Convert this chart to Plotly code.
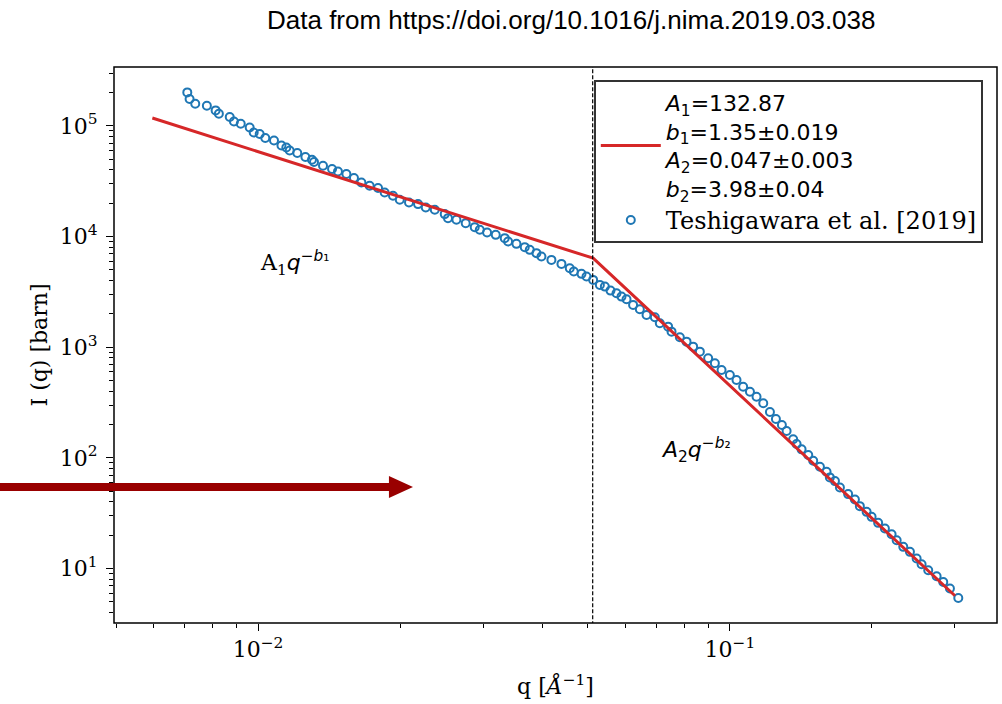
import plotly.graph_objects as go

# Data points (Teshigawara et al. [2019])
q_data = [0.00708, 0.00716, 0.00736, 0.00779, 0.00813, 0.00826, 0.00871, 0.00889, 0.00919, 0.00960,
          0.00979, 0.01008, 0.01036, 0.01081, 0.01121, 0.01148, 0.01167, 0.01211, 0.01260, 0.01301,
          0.01314, 0.01373, 0.01435, 0.01477, 0.01539, 0.01597, 0.01656, 0.01724,
          0.01796, 0.01855, 0.01932, 0.01997, 0.02089, 0.02183, 0.02267, 0.02369, 0.02487, 0.02527,
          0.02633, 0.02755, 0.02879, 0.02951, 0.03058, 0.03190, 0.03333, 0.03388, 0.03529, 0.03675,
          0.03766, 0.03891, 0.03987, 0.04186, 0.04396, 0.04578, 0.04669, 0.04848, 0.04968,
          0.05131, 0.05302, 0.05433, 0.05585, 0.05751, 0.05893, 0.06039, 0.06236, 0.06444, 0.06659,
          0.06934, 0.07105, 0.07399, 0.07523, 0.07834, 0.08095, 0.08360, 0.08638, 0.08995, 0.09294,
          0.09603, 0.1000, 0.1033, 0.1067, 0.1103, 0.1139, 0.1177, 0.1216, 0.1252, 0.1289,
          0.1319, 0.1362, 0.1385, 0.1419, 0.1466, 0.1502, 0.1552, 0.1603, 0.1629, 0.1670,
          0.1711, 0.1781, 0.1841, 0.1886, 0.1949, 0.1997, 0.2062, 0.2131, 0.2202, 0.2257,
          0.2331, 0.2408, 0.2488, 0.2549, 0.2633, 0.2743, 0.2833, 0.2927, 0.3049]
I_data = [200700, 175000, 158600, 152200, 138000, 128800, 120300, 109700, 104600, 96830,
          87260, 84400, 77650, 73870, 66560, 63840, 59980, 56810, 52280, 49420,
          47110, 43620, 40710, 38730, 36680, 33760, 30800, 28750,
          27410, 25000, 23350, 21480, 20300, 19640, 18300, 17440, 15950, 14670,
          14160, 13220, 12160, 11500, 10870, 10360, 9674, 9012, 8590, 8020,
          7581, 7078, 6594, 6154, 5662, 5178, 4826, 4600, 4348,
          4058, 3657, 3529, 3248, 3076, 2866, 2716, 2412, 2204, 1957,
          1866, 1647, 1534, 1383, 1230, 1123, 1012, 911.7, 794.5, 715.8,
          622.6, 561.0, 505.6, 439.7, 396.2, 357.0, 311.2, 259.6, 224.4, 198.1,
          174.8, 147.1, 133.3, 119.4, 106.0, 94.15, 83.10, 74.85, 66.63, 61.67,
          54.09, 47.06, 42.13, 36.64, 32.53, 29.32, 25.88, 23.03, 20.45, 18.05,
          15.70, 14.15, 12.33, 10.95, 9.663, 8.528, 7.571, 6.598, 5.427]

# Broken power-law fit line (start, break, end)
q_fit = [0.00597, 0.05131, 0.300]
I_fit = [117800, 6378, 5.681]

# Break position (vertical dashed line)
q_break = 0.0512

# Tick values and labels
x_tickvals = [0.01, 0.1]
x_ticktext = ["10<sup>−2</sup>", "10<sup>−1</sup>"]
y_tickvals = [10, 100, 1000, 10000, 100000]
y_ticktext = ["10<sup>1</sup>", "10<sup>2</sup>", "10<sup>3</sup>", "10<sup>4</sup>", "10<sup>5</sup>"]

fit_label = ("<i>A</i><sub>1</sub>=132.87<br><i>b</i><sub>1</sub>=1.35±0.019<br>"
             "<i>A</i><sub>2</sub>=0.047±0.003<br><i>b</i><sub>2</sub>=3.98±0.04")
data_label = "<span style=\"font-family:'DejaVu Serif';font-size:24px\">Teshigawara et al. [2019]</span>"

fig = go.Figure()
fig.add_trace(go.Scatter(
    x=q_data, y=I_data, mode="markers", name=data_label, legendrank=2,
    marker=dict(symbol="circle-open", size=8, color="#1f77b4", line=dict(width=2, color="#1f77b4")),
))
fig.add_trace(go.Scatter(
    x=q_fit, y=I_fit, mode="lines", name=fit_label, legendrank=1,
    line=dict(color="#d62728", width=3),
))
fig.add_trace(go.Scatter(
    x=[q_break, q_break], y=[1, 1e6], mode="lines", showlegend=False,
    line=dict(color="black", width=1.2, dash="4px,2px"),
))

serif = "DejaVu Serif"
axis_common = dict(
    type="log", showline=False, mirror=False,
    ticks="outside", ticklen=7, tickwidth=1.3, tickcolor="black",
    showgrid=False, zeroline=False,
    tickfont=dict(family=serif, size=22, color="black"),
    minor=dict(ticks="outside", ticklen=4, tickwidth=1, tickcolor="black", dtick="D1", showgrid=False),
)

fig.update_layout(
    width=1002, height=704, autosize=False,
    margin=dict(l=114, r=5, t=67, b=81),
    paper_bgcolor="white", plot_bgcolor="white",
    xaxis=dict(axis_common, range=[-2.3053, -0.4338], tickvals=x_tickvals, ticktext=x_ticktext,
               title=dict(text="q [<i>Å</i><sup>−1</sup>]", font=dict(family=serif, size=22, color="black"), standoff=17)),
    yaxis=dict(axis_common, range=[0.508, 5.532], tickvals=y_tickvals, ticktext=y_ticktext,
               ticklabelstandoff=4,
               title=dict(text="I (q) [barn]", font=dict(family=serif, size=22, color="black"), standoff=6)),
    legend=dict(x=0.5436, y=0.9766, xanchor="left", yanchor="top",
                bgcolor="white", bordercolor="#333333", borderwidth=1.8,
                font=dict(family="DejaVu Sans", size=22, color="black"),
                itemwidth=60, tracegroupgap=2),
    showlegend=True,
)

# Plot frame
fig.add_shape(type="rect", xref="paper", yref="paper", x0=0, x1=1, y0=0, y1=1,
              line=dict(color="black", width=1.5), layer="above")

fig.add_annotation(x=0.5176, y=1.0845, xref="paper", yref="paper", showarrow=False,
                   xanchor="center", yanchor="middle",
                   text="Data from https://doi.org/10.1016/j.nima.2019.03.038",
                   font=dict(family="Liberation Sans", size=26, color="black"))
fig.add_annotation(x=0.205, y=0.647, xref="paper", yref="paper", showarrow=False,
                   xanchor="center", yanchor="middle",
                   text="A<sub>1</sub><span style=\"font-family:'DejaVu Sans'\"><i>q</i><sup>−<i>b</i>₁</sup></span>",
                   font=dict(family=serif, size=22, color="black"))
fig.add_annotation(x=0.659, y=0.311, xref="paper", yref="paper", showarrow=False,
                   xanchor="center", yanchor="middle",
                   text="<i>A</i><sub>2</sub><i>q</i><sup>−<i>b</i>₂</sup>",
                   font=dict(family="DejaVu Sans", size=22, color="black"))

# Dark red arrow overlay
arrow_y = 0.2446
fig.add_shape(type="line", xref="paper", yref="paper", x0=-0.13, x1=0.315, y0=arrow_y, y1=arrow_y,
              line=dict(color="#990000", width=8), layer="above")
fig.add_shape(type="path", xref="paper", yref="paper",
              path=f"M 0.3114 {arrow_y+0.0198} L 0.3386 {arrow_y} L 0.3114 {arrow_y-0.0198} Z",
              fillcolor="#990000", line=dict(color="#990000", width=0), layer="above")

fig.write_html("out.html")
